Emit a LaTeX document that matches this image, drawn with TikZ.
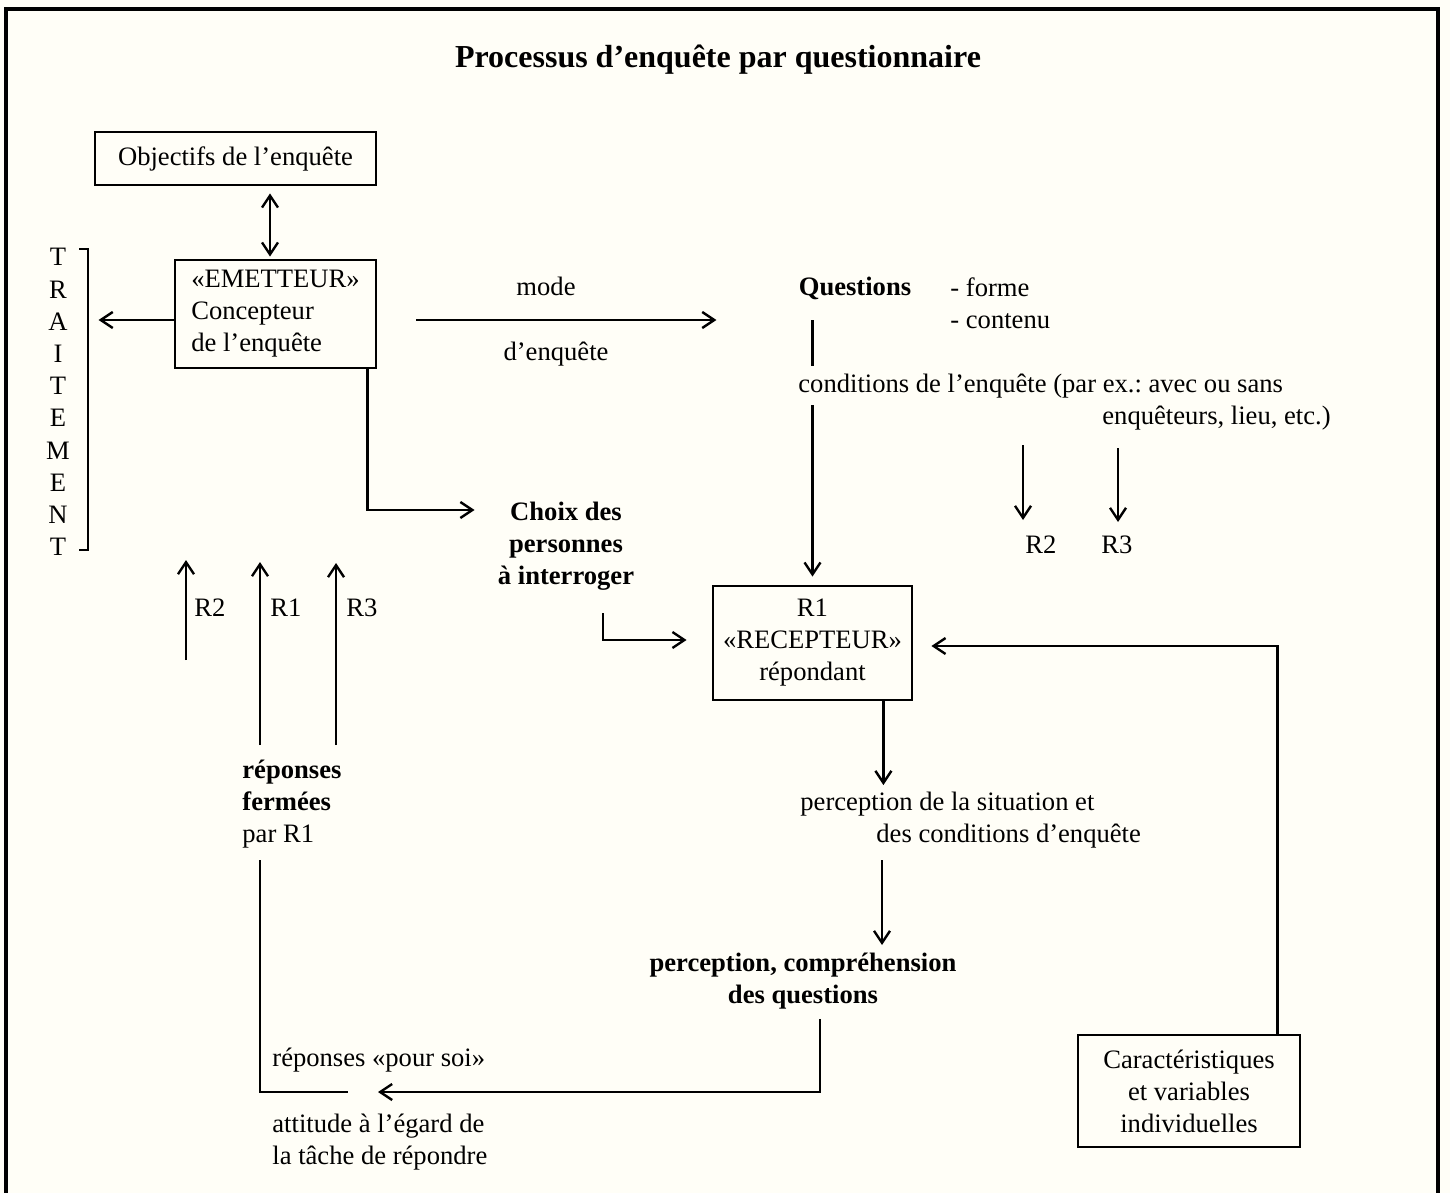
\documentclass[tikz,border=0pt]{standalone}
\usepackage{fontspec}
\setmainfont{Liberation Serif}
\usetikzlibrary{arrows.meta,calc}
\definecolor{bgcol}{RGB}{255,254,247}
\frenchspacing
\begin{document}
\begin{tikzpicture}[x=0.5pt,y=-0.5pt,
  every node/.style={font=\fontsize{13.3}{16}\selectfont, inner sep=0pt},
  >={Straight Barb[length=6pt,width=8pt]},
  line/.style={line width=1.2pt},
  box/.style={draw, line width=1.4pt},
  bf/.style={font=\fontsize{13.3}{16}\selectfont\bfseries}]
\useasboundingbox (0,0) rectangle (1450,1193);
\fill[bgcol] (0,0) rectangle (1450,1193);
\draw[line width=1.6pt] (6,1193) -- (6,9) -- (1438,9) -- (1438,1193);

% title
\node[font=\fontsize{16}{19}\selectfont\bfseries, anchor=base] (title) at (718,68) {Processus d’enquête par questionnaire};

% boxes
\node[box, minimum width=140.5pt, minimum height=26.5pt] (obj) at (235.5,158.5) {Objectifs de l’enquête};
\node[box, minimum width=100.5pt, minimum height=54pt, align=left] (emet) at (275.5,314) {«EMETTEUR»\\Concepteur\\de l’enquête};
\node[box, minimum width=99.5pt, minimum height=57pt, align=center] (recep) at (812.5,643) {R1\\«RECEPTEUR»\\répondant};
\node[box, minimum width=111pt, minimum height=56pt, align=center] (caract) at (1189,1091) {Caractéristiques\\et variables\\individuelles};

% TRAITEMENT
\node[align=center, anchor=north, font=\fontsize{13.3}{16.1}\selectfont] (trait) at (58,248) {T\\R\\A\\I\\T\\E\\M\\E\\N\\T};
\draw[line] (79,249) -- (88,249) -- (88,550) -- (79,550);

% texts
\node[anchor=base] (mode) at (546,295) {mode};
\node[anchor=base] (denq) at (556,360) {d’enquête};
\node[bf, anchor=base] (quest) at (855,295) {Questions};
\node[anchor=north west, align=left] (fc) at (950,277) {- forme\\- contenu};
\node[anchor=base west] (cond1) at (798,392) {conditions de l’enquête (par ex.: avec ou sans};
\node[anchor=base east] (cond2) at (1331,424) {enquêteurs, lieu, etc.)};
\node[anchor=base] (r2b) at (1041,553) {R2};
\node[anchor=base] (r3b) at (1117,553) {R3};
\node[bf, align=center, anchor=north] (choix) at (566,502) {Choix des\\personnes\\à interroger};
\node[anchor=base west] (r2a) at (194,616) {R2};
\node[anchor=base west] (r1a) at (270,616) {R1};
\node[anchor=base west] (r3a) at (346,616) {R3};
\node[anchor=north west, align=left] (rep) at (242,760) {\textbf{réponses}\\\textbf{fermées}\\par R1};
\node[anchor=base west] (ps1) at (800,810) {perception de la situation et};
\node[anchor=base west] (ps2) at (876,842) {des conditions d’enquête};
\node[bf, align=center, anchor=north] (pcomp) at (803,953) {perception, compréhension\\des questions};
\node[anchor=base west] (pour) at (272,1066) {réponses «pour soi»};
\node[anchor=north west, align=left] (att) at (272,1114) {attitude à l’égard de\\la tâche de répondre};

% connectors
\draw[line,<->] ($(emet.north |- obj.south)+(-5.5,7)$) -- ($(emet.north)+(-5.5,-2)$);
\draw[line,->] ($(emet.west)+(0,6)$) -- ++(-75,0);
\draw[line,->] ($(emet.east)+(39,6)$) -- ++(300,0);
\draw[line,->] ($(emet.south east)+(-10,0)$) |- ($(choix.north west)+(-23,8)$);
\draw[line,->] ($(choix.south)+(37,22)$) |- ($(recep.west)+(-25,-3)$);
\draw[line] ($(recep.north |- quest.base)+(0,25)$) -- ($(recep.north |- cond1.base)+(0,-26)$);
\draw[line,->] ($(recep.north |- cond1.base)+(0,13)$) -- ($(recep.north)+(0,-8)$);
\draw[line,->] ($(r2b.base)+(-18,-108)$) -- ($(r2b.base)+(-18,-33)$);
\draw[line,->] ($(r3b.base)+(1,-105)$) -- ($(r3b.base)+(1,-31)$);
\draw[line,->] ($(r2a.base west)+(-8,44)$) -- ($(r2a.base west)+(-8,-56)$);
\draw[line,->] ($(rep.north west)+(18,-15)$) -- ($(r1a.base west)+(-10,-54)$);
\draw[line,->] ($(rep.north west)+(94,-15)$) -- ($(r3a.base west)+(-10,-53)$);
\draw[line] ($(rep.north west)+(18,100)$) |- ($(att.north west)+(76,-22)$);
\draw[line,->] ($(pcomp.south)+(17,9)$) |- ($(att.north west)+(106,-22)$);
\draw[line,->] ($(recep.south east)+(-30,0)$) -- ($(recep.south east |- ps1.base)+(-30,-25)$);
\draw[line,->] ($(ps2.base west)+(6,18)$) -- ($(ps2.base west |- pcomp.north)+(6,-8)$);
\draw[line,->] ($(caract.north east)+(-24,0)$) |- ($(recep.east)+(18,3)$);
\end{tikzpicture}
\end{document}
